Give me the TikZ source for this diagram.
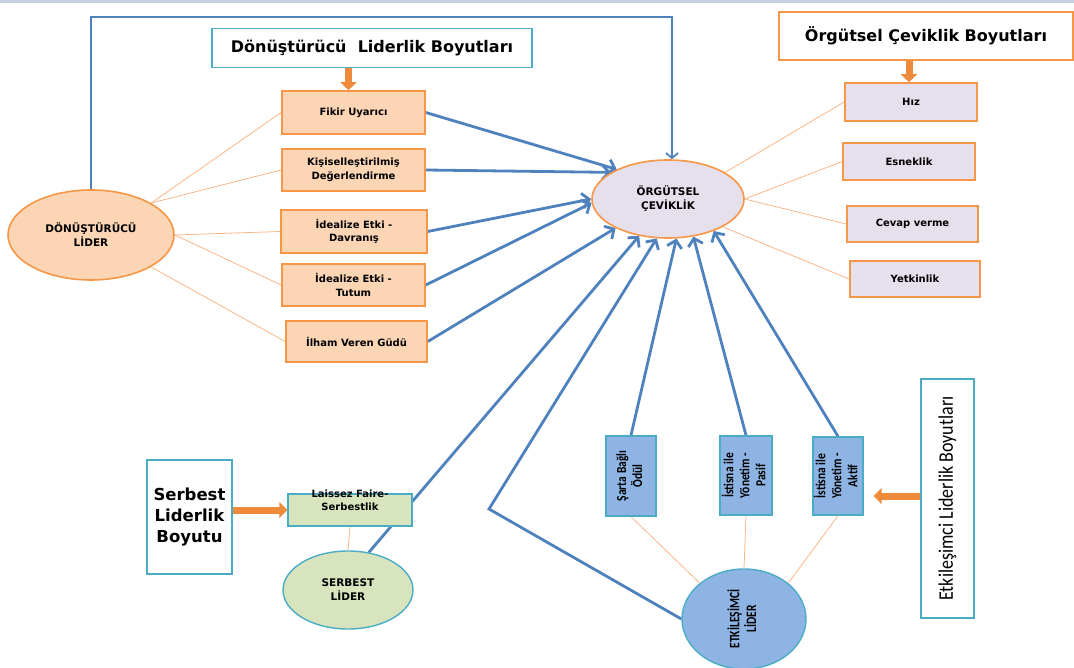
\documentclass[tikz,border=0pt]{standalone}
\usepackage{fontspec}
\setmainfont{DejaVu Sans}
\newfontfamily\carl{Carlito}
\usetikzlibrary{arrows.meta,shapes.geometric,calc,backgrounds}
\definecolor{peach}{HTML}{FCD5B5}
\definecolor{orborder}{HTML}{F79646}
\definecolor{lav}{HTML}{E6E0EC}
\definecolor{blueline}{HTML}{4F81BD}
\definecolor{teal}{HTML}{4BACC6}
\definecolor{bluefill}{HTML}{8EB4E3}
\definecolor{greenfill}{HTML}{D7E4BD}
\definecolor{thinorange}{HTML}{F9B585}
\definecolor{fatorange}{HTML}{EE8A3C}
\definecolor{topbar}{HTML}{C4D0DF}
\begin{document}
\begin{tikzpicture}[x=1pt,y=1pt,
  lbl/.style={font=\bfseries\fontsize{10}{13.5}\selectfont, align=center, text=black},
  peachbox/.style={lbl, draw=orborder, fill=peach, line width=1.6pt, inner sep=1pt},
  lavbox/.style={lbl, draw=orborder, fill=lav, line width=1.6pt, inner sep=1pt},
  bluebox/.style={draw=teal, fill=bluefill, line width=1.4pt, inner sep=0pt, align=center},
  titlebox/.style={draw=teal, fill=white, line width=1.4pt, inner sep=2pt, align=center},
  ell/.style={ellipse, inner sep=0pt, font=\bfseries\fontsize{10.5}{13.8}\selectfont, align=center},
  bluearr/.style={draw=blueline, line width=2.8pt, -{Straight Barb[length=7pt,width=15pt]}},
  bluetop/.style={draw=blueline, line width=1.8pt, -{Straight Barb[length=5pt,width=12pt]}},
  thinor/.style={draw=thinorange, line width=0.8pt},
  fat/.style={draw=fatorange, line width=7pt, -{Triangle[length=8pt,width=16pt]}}
]
\useasboundingbox (0,0) rectangle (1074,-668);
\fill[topbar] (0,0) rectangle (1074,-3);

% titles
\node[titlebox, minimum width=320, minimum height=39, font=\bfseries\fontsize{16}{19}\selectfont] (t1) at (372,-48) {Dönüştürücü\ \ Liderlik Boyutları};
\node[titlebox, draw=orborder, minimum width=294, minimum height=48, font=\bfseries\fontsize{16}{19}\selectfont] (t2) at (926,-36) {Örgütsel Çeviklik Boyutları};
\node[titlebox, minimum width=85, minimum height=114, font=\bfseries\fontsize{16.5}{21}\selectfont] (t4) at (189.5,-517) {Serbest\\Liderlik\\Boyutu};
\node[titlebox, minimum width=53, minimum height=239] (t3) at (947.5,-498.5) {\rotatebox{90}{\carl\fontsize{18}{20}\selectfont\scalebox{1}[1.15]{Etkileşimci Liderlik Boyutları}}};

% left boxes
\node[peachbox, minimum width=143, minimum height=43] (fu) at (353.5,-112.5) {Fikir Uyarıcı};
\node[peachbox, minimum width=143, minimum height=42] (kd) at (353.5,-170) {Kişiselleştirilmiş\\Değerlendirme};
\node[peachbox, minimum width=146, minimum height=43] (dv) at (354,-231.5) {İdealize Etki -\\Davranış};
\node[peachbox, minimum width=143, minimum height=42] (tu) at (353.5,-285) {İdealize Etki -\\Tutum};
\node[peachbox, minimum width=141, minimum height=41] (ih) at (356.5,-341.5) {İlham Veren Güdü};

% right boxes
\node[lavbox, minimum width=132, minimum height=38] (hiz) at (911,-102) {Hız};
\node[lavbox, minimum width=132, minimum height=37] (esn) at (909,-161.5) {Esneklik};
\node[lavbox, minimum width=131, minimum height=36] (cev) at (912.5,-224) {Cevap verme};
\node[lavbox, minimum width=130, minimum height=36] (yet) at (915,-279) {Yetkinlik};

% ellipses
\node[ell, draw=orborder, fill=peach, line width=1.6pt, minimum width=166, minimum height=90] (dl) at (91,-235) {DÖNÜŞTÜRÜCÜ\\LİDER};
\node[ell, draw=orborder, fill=lav, line width=1.6pt, minimum width=152, minimum height=78] (org) at (668,-199) {ÖRGÜTSEL\\ÇEVİKLİK};
\node[ell, draw=teal, fill=bluefill, line width=1.4pt, minimum width=124, minimum height=100] (et) at (744,-619) {\rotatebox{90}{\carl\bfseries\fontsize{11.5}{12.5}\selectfont\scalebox{1}[1.25]{\begin{tabular}{@{}c@{}}ETKİLEŞİMCİ\\LİDER\end{tabular}}}};
\node[ell, draw=teal, fill=greenfill, line width=1.4pt, minimum width=130, minimum height=78] (sl) at (348,-590) {SERBEST\\LİDER};

% blue boxes
\node[bluebox, minimum width=50, minimum height=80] (sar) at (631,-476) {\rotatebox{90}{\carl\bfseries\fontsize{11.5}{13.3}\selectfont\scalebox{1}[1.2]{\begin{tabular}{@{}c@{}}Şarta Bağlı\\Ödül\end{tabular}}}};
\node[bluebox, minimum width=52, minimum height=79] (pas) at (746,-475.5) {\rotatebox{90}{\carl\bfseries\fontsize{11.5}{13.3}\selectfont\scalebox{1}[1.2]{\begin{tabular}{@{}c@{}}İstisna ile\\Yönetim -\\Pasif\end{tabular}}}};
\node[bluebox, minimum width=50, minimum height=78] (akt) at (838,-476) {\rotatebox{90}{\carl\bfseries\fontsize{11.5}{13.3}\selectfont\scalebox{1}[1.2]{\begin{tabular}{@{}c@{}}İstisna ile\\Yönetim -\\Aktif\end{tabular}}}};

% laissez faire box
\node[draw=teal, fill=greenfill, line width=1.4pt, minimum width=124, minimum height=32, inner sep=0pt, font=\bfseries\fontsize{10}{13}\selectfont] (lf) at (350,-510) {\raisebox{6pt}[0pt][0pt]{\begin{tabular}{@{}c@{}}Laissez Faire-\\Serbestlik\end{tabular}}};

\coordinate (tl) at (672,-17);
\coordinate (corner) at (489,-509);

\begin{scope}[on background layer]
  % thin orange lines
  \draw[thinor] (dl.28) -- (fu.west);
  \draw[thinor] (dl.28) -- (kd.west);
  \draw[thinor] (dl.0) -- (dv.west);
  \draw[thinor] (dl.0) -- (tu.west);
  \draw[thinor] (dl.-28) -- (ih.west);
  \draw[thinor] (org.25) -- (hiz.west);
  \draw[thinor] (org.0) -- (esn.west);
  \draw[thinor] (org.0) -- (cev.west);
  \draw[thinor] (org.-27) -- (yet.west);
  \draw[thinor] (sar.south) -- (et.141);
  \draw[thinor] (pas.south) -- (et.90);
  \draw[thinor] (akt.south) -- (et.39);
  \draw[thinor] (lf.south) -- (sl.north);
  % blue arrows
  \draw[bluetop] (dl.north) |- (tl) -- (tl |- org.north);
  \draw[bluearr] (fu.east) -- (org.150);
  \draw[bluearr] (kd.east) -- (org.155);
  \draw[bluearr] (dv.east) -- (org.180);
  \draw[bluearr] (tu.east) -- (org.183);
  \draw[bluearr] (ih.east) -- (org.209);
  \draw[bluearr] (sl.61) -- (org.232);
  \draw[bluearr] (et.180) -- (corner) -- (org.254);
  \draw[bluearr] (sar.north) -- (org.282);
  \draw[bluearr] (pas.north) -- (org.304);
  \draw[bluearr] (akt.north) -- (org.325);
\end{scope}

% fat orange arrows
\draw[fat] ([xshift=-5pt]fu.north |- t1.south) -- ([xshift=-5pt]fu.north);
\draw[fat] ([xshift=-2pt]hiz.north |- t2.south) -- ([xshift=-2pt]hiz.north);
\draw[fat] (t3.west |- 0,-496) -- ([xshift=10pt]akt.east |- 0,-496);
\draw[fat] (t4.east |- lf.west) -- (lf.west);
\end{tikzpicture}
\end{document}
